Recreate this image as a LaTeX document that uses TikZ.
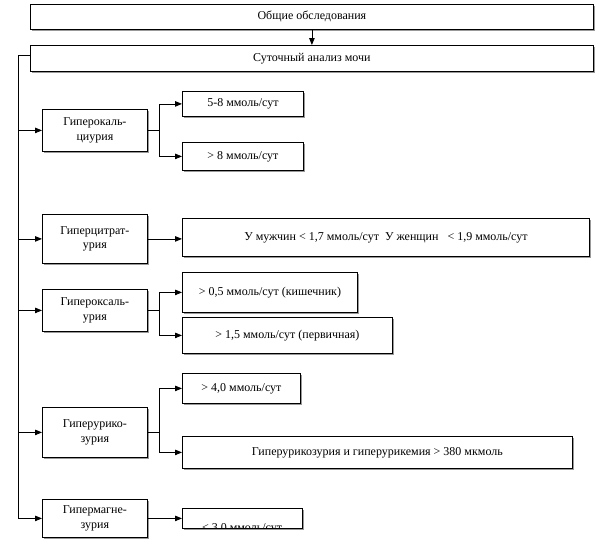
\documentclass[tikz,border=0pt]{standalone}
\usepackage{fontspec}
\setmainfont{Liberation Serif}
\usetikzlibrary{arrows.meta,shadows,calc}
\begin{document}
\begin{tikzpicture}[x=1pt,y=-1pt,
  box/.style={draw=black,line width=0.8pt,fill=white,anchor=north west,inner sep=0pt,
    align=center,font=\fontsize{12}{14.5}\selectfont,
    drop shadow={shadow xshift=1.2pt,shadow yshift=-1.2pt,fill=gray!80,opacity=1}},
  arr/.style={line width=0.8pt,-{Triangle[length=7pt,width=5.5pt]}},
  ln/.style={line width=0.8pt}]
\useasboundingbox (0,0) rectangle (599,539);
% main boxes
\node[box,minimum width=563pt,minimum height=25pt] (top) at (30,4) {Общие обследования};
\node[box,minimum width=563pt,minimum height=26pt] (sut) at (30,45) {Суточный анализ мочи};
% category boxes
\node[box,minimum width=105pt,minimum height=42pt] (ca) at (42,109) {Гиперокаль-\\циурия};
\node[box,minimum width=105pt,minimum height=49pt] (cit) at (42,214) {Гиперцитрат-\\урия};
\node[box,minimum width=105pt,minimum height=42pt] (ox) at (42,289) {Гипероксаль-\\урия};
\node[box,minimum width=105pt,minimum height=50pt] (ur) at (42,407) {Гиперурико-\\зурия};
\node[box,minimum width=105pt,minimum height=38pt] (mg) at (42,499) {Гипермагне-\\зурия};
% value boxes
\node[box,minimum width=121pt,minimum height=25pt] (ca1) at (182,91) {5-8 ммоль/сут};
\node[box,minimum width=121pt,minimum height=28pt] (ca2) at (182,142) {> 8 ммоль/сут};
\node[box,minimum width=407pt,minimum height=38pt] (cit1) at (182,218) {У мужчин < 1,7 ммоль/сут\ \ У женщин\ \ \ < 1,9 ммоль/сут};
\node[box,minimum width=175pt,minimum height=40pt] (ox1) at (182,272) {> 0,5 ммоль/сут (кишечник)};
\node[box,minimum width=210pt,minimum height=36pt] (ox2) at (182,317) {> 1,5 ммоль/сут (первичная)};
\node[box,minimum width=118pt,minimum height=30pt] (ur1) at (182,373) {> 4,0 ммоль/сут};
\node[box,minimum width=390pt,minimum height=32pt] (ur2) at (182,436) {Гиперурикозурия и гиперурикемия > 380 мкмоль};
\node[box,minimum width=120pt,minimum height=20pt] (mg1) at (182,508) {};
\begin{scope}
  \clip (mg1.north west) rectangle (mg1.south east);
  \node[anchor=base,inner sep=0pt,font=\fontsize{12}{14.5}\selectfont] (mg1t) at (242,531) {< 3,0 ммоль/сут};
\end{scope}
% connectors
\draw[arr] (top.south) -- (sut.north);
\coordinate (tx) at (18,0);
\draw[arr] ([yshift=3pt]sut.west) -| (tx |- mg.west) -- (mg.west);
\draw[arr] (tx |- ca.west) -- (ca.west);
\draw[arr] (tx |- cit.west) -- (cit.west);
\draw[arr] (tx |- ox.west) -- (ox.west);
\draw[arr] (tx |- ur.west) -- (ur.west);
% branches
\draw[arr] (ca.east) -- ++(12,0) |- (ca1.west);
\draw[arr] (ca.east) -- ++(12,0) |- (ca2.west);
\draw[arr] (cit.east) -- (cit.east -| cit1.west);
\draw[arr] (ox.east) -- ++(12,0) |- (ox1.west);
\draw[arr] (ox.east) -- ++(12,0) |- (ox2.west);
\draw[arr] (ur.east) -- ++(12,0) |- (ur1.west);
\draw[arr] (ur.east) -- ++(12,0) |- (ur2.west);
\draw[arr] (mg.east) -- (mg.east -| mg1.west);
\end{tikzpicture}
\end{document}
